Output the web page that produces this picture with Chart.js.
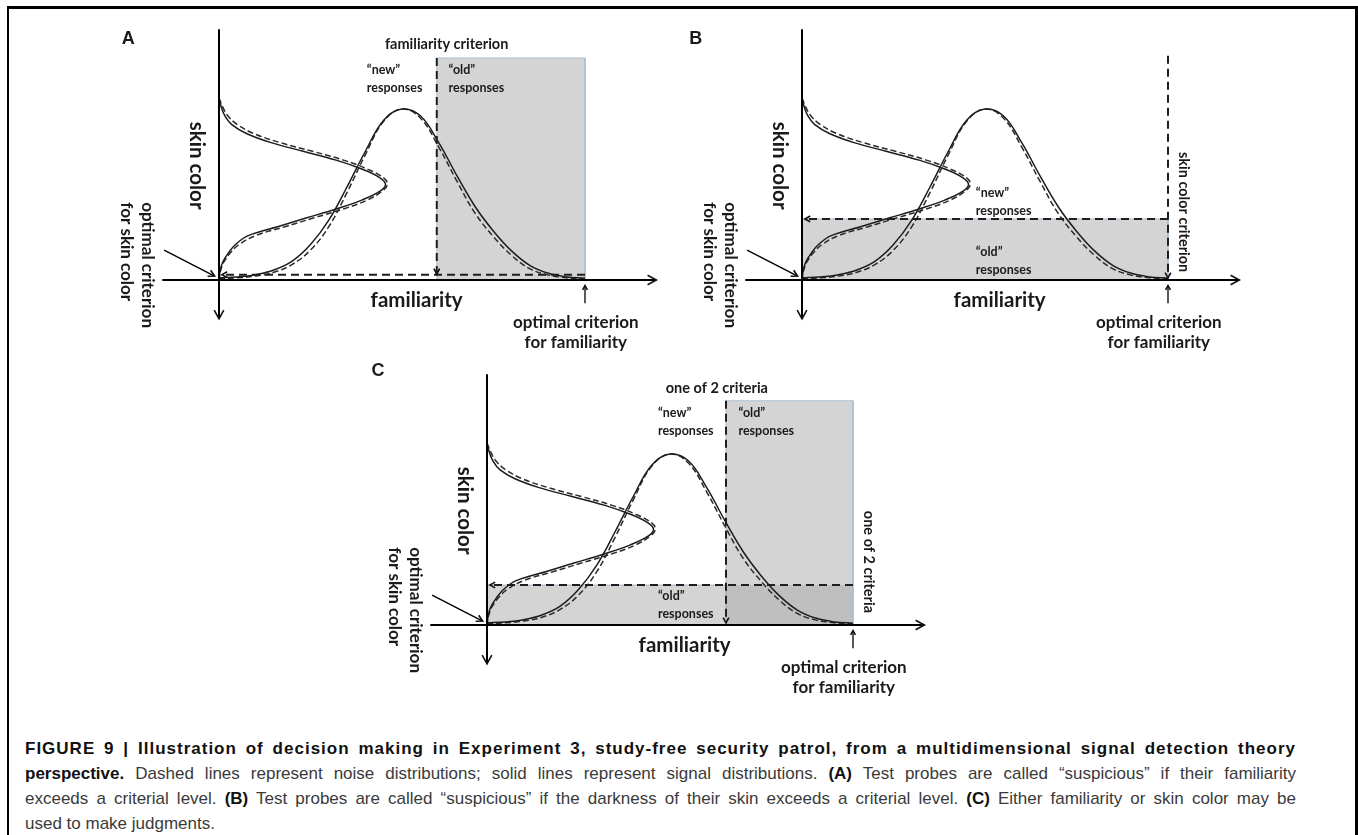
<!DOCTYPE html>
<html lang="en">
<head>
    <meta charset="UTF-8">
    <title>Figure 9 - Decision making in Experiment 3</title>
    <script src="https://cdn.jsdelivr.net/npm/chart.js"></script>
    <style>
        html, body {
            margin: 0;
            padding: 0;
            background: #fff;
        }

        body {
            width: 1358px;
            height: 835px;
            position: relative;
            overflow: hidden;
        }

        .frame {
            position: absolute;
            left: 7px;
            top: 6px;
            width: 1346px;
            height: 900px;
            border-top: 3px solid #000;
            border-left: 2px solid #000;
            border-right: 3px solid #000;
        }

        canvas.panel {
            position: absolute;
        }

        .caption {
            position: absolute;
            left: 25px;
            top: 736px;
            width: 1271px;
            font-family: "Liberation Sans", Arial, sans-serif;
            font-size: 17px;
            line-height: 25px;
            color: #3a3a3a;
            white-space: nowrap;
        }

        .caption .full {
            text-align: justify;
            text-align-last: justify;
        }

        .caption .title {
            letter-spacing: 1px;
        }

        .caption b {
            color: #111;
        }
    </style>
</head>
<body>
    <div class="frame"></div>
    <canvas id="panelA" class="panel"></canvas>
    <canvas id="panelB" class="panel"></canvas>
    <canvas id="panelC" class="panel"></canvas>

    <div class="caption">
        <div class="full title"><b>FIGURE 9 | Illustration of decision making in Experiment 3, study-free security patrol, from a multidimensional signal detection theory</b></div>
        <div class="full"><b>perspective.</b> Dashed lines represent noise distributions; solid lines represent signal distributions. <b>(A)</b> Test probes are called “suspicious” if their familiarity</div>
        <div class="full">exceeds a criterial level. <b>(B)</b> Test probes are called “suspicious” if the darkness of their skin exceeds a criterial level. <b>(C)</b> Either familiarity or skin color may be</div>
        <div>used to make judgments.</div>
    </div>

    <script>
        // familiarity distributions (height above the familiarity axis)
        const famLevels = [0, 5, 10, 15, 20, 25, 30, 35, 40, 45, 50, 55, 60, 65, 70, 75, 80, 85, 90, 95, 100];
        const famSignal = [1.0, 1.4, 2.4, 4.5, 8.5, 16, 27, 42, 58, 72, 77, 74, 62, 47, 33, 22, 13, 6.5, 3, 1.4, 0.8];
        const famNoise = [0.6, 1.0, 1.8, 3.5, 7, 13.5, 24, 39.5, 56.5, 71.5, 77, 73, 60, 44.5, 30, 19.5, 11, 5, 2.2, 1.0, 0.5];

        // skin color distributions (distance from the skin color axis)
        const skinLevels = [82, 78, 74, 70, 66, 62, 58, 54, 50, 46, 43, 40, 36, 32, 28, 24, 20, 16, 12, 8, 4, 0];
        const skinSignal = [0, 0.6, 1.6, 3.5, 7.5, 14, 23, 32, 39, 44, 45.5, 44, 39, 32, 24, 16, 8, 4.5, 2.5, 1.0, 0.3, 0];
        const skinNoise = [0, 1.0, 2.4, 5, 9.5, 16.5, 25.5, 34, 40.5, 45, 46, 44.5, 40.5, 34, 26, 18, 10, 5.5, 3, 1.3, 0.4, 0];

        // criteria
        const optimalFam = 100;
        const criterionTop = 100;
        const famCriterionA = 59.5;
        const skinCriterionA = 2.4;
        const skinCriterionB = 27.5;
        const famCriterionC = 65.3;
        const skinCriterionC = 18;

        const KX = 3.66;   // px per familiarity unit
        const KY = 2.22;   // px per skin color unit
        const LABEL_FONT = 'Lato, "Open Sans", sans-serif';

        const pt = (x, y) => ({ x, y });

        function curve(xs, ys, dashed) {
            return {
                data: xs.map((v, i) => pt(v, ys[i])),
                borderColor: dashed ? '#2b2b2b' : '#1c1c1c',
                borderWidth: 1.5,
                borderDash: dashed ? [6, 3] : [],
                tension: 0.4,
                fill: false,
                pointRadius: 0,
                order: 5
            };
        }

        function shade(x0, x1, y1, alpha, edge) {
            return {
                data: [pt(x0, 0), pt(x0, y1), pt(x1, y1), pt(x1, 0)],
                fill: 'origin',
                backgroundColor: 'rgba(0,0,0,' + (alpha || 0.17) + ')',
                borderColor: edge === false ? 'rgba(0,0,0,0)' : '#a9bed3',
                borderWidth: 1,
                tension: 0,
                pointRadius: 0,
                order: 10
            };
        }

        function dashed(points) {
            return {
                data: points,
                borderColor: '#1e1e1e',
                borderWidth: 2,
                borderDash: [8, 5],
                tension: 0,
                fill: false,
                pointRadius: 0,
                order: 2
            };
        }

        function solid(points, width) {
            return {
                data: points,
                borderColor: '#000',
                borderWidth: width,
                tension: 0,
                fill: false,
                pointRadius: 0,
                order: 1
            };
        }

        function commonSets() {
            return [
                solid([pt(-15.5, 0), pt(119.5, 0)], 2),
                solid([pt(0, 113), pt(0, -17.5)], 2),
                solid([pt(optimalFam, -10.5), pt(optimalFam, -2.5)], 1.3),
                solid([pt(-15, 13.5), pt(-1.2, 1.8)], 1.4),
                curve(famLevels, famSignal, false),
                curve(famLevels, famNoise, true),
                curve(skinSignal, skinLevels, false),
                curve(skinNoise, skinLevels, true)
            ];
        }

        function commonArrows() {
            return [
                { from: [110, 0], to: [119.5, 0], size: 10 },
                { from: [0, -10], to: [0, -17.5], size: 10 },
                { from: [optimalFam, -9], to: [optimalFam, -2.5], size: 5 },
                { from: [-15, 13.5], to: [-1.2, 1.8], size: 7 }
            ];
        }

        function commonLabels(letter, letterX, letterY) {
            return [
                { t: letter, x: letterX, y: letterY, font: 'bold 18px "Liberation Sans", Arial', align: 'center' },
                { t: 'skin color', x: -6, y: 51.5, font: 'bold 20.5px ' + LABEL_FONT, align: 'center', rot: true },
                { t: 'optimal criterion', x: -19.5, y: 35, font: 'bold 17px ' + LABEL_FONT, align: 'left', rot: true },
                { t: 'for skin color', x: -25.4, y: 35, font: 'bold 17px ' + LABEL_FONT, align: 'left', rot: true },
                { t: 'familiarity', x: 54, y: -9, font: 'bold 20.5px ' + LABEL_FONT, align: 'center' },
                { t: 'optimal criterion', x: 97.5, y: -19, font: 'bold 17px ' + LABEL_FONT, align: 'center' },
                { t: 'for familiarity', x: 97.5, y: -28, font: 'bold 17px ' + LABEL_FONT, align: 'center' }
            ];
        }

        function responses(word, x, y) {
            return [
                { t: '\u201c' + word + '\u201d', x: x, y: y, font: 'bold 12.5px ' + LABEL_FONT, align: 'left' },
                { t: 'responses', x: x, y: y - 8, font: 'bold 12.5px ' + LABEL_FONT, align: 'left' }
            ];
        }

        function arrowHead(ctx, x0, y0, x1, y1, size) {
            const a = Math.atan2(y1 - y0, x1 - x0);
            ctx.beginPath();
            ctx.moveTo(x1 - size * Math.cos(a - 0.5), y1 - size * Math.sin(a - 0.5));
            ctx.lineTo(x1, y1);
            ctx.lineTo(x1 - size * Math.cos(a + 0.5), y1 - size * Math.sin(a + 0.5));
            ctx.stroke();
        }

        const annotate = {
            id: 'annotate',
            afterDatasetsDraw(chart, args, opts) {
                const { ctx } = chart;
                const sx = chart.scales.x, sy = chart.scales.y;
                const P = (u, v) => [sx.getPixelForValue(u), sy.getPixelForValue(v)];
                ctx.save();
                ctx.strokeStyle = '#111';
                ctx.lineWidth = 1.6;
                ctx.setLineDash([]);
                opts.arrows.forEach(a => {
                    const [x0, y0] = P(a.from[0], a.from[1]);
                    const [x1, y1] = P(a.to[0], a.to[1]);
                    arrowHead(ctx, x0, y0, x1, y1, a.size);
                });
                ctx.fillStyle = '#1a1a1a';
                ctx.textBaseline = 'middle';
                opts.labels.forEach(l => {
                    const [px, py] = P(l.x, l.y);
                    ctx.font = l.font;
                    ctx.textAlign = l.align;
                    if (l.rot) {
                        ctx.save();
                        ctx.translate(px, py);
                        ctx.rotate(Math.PI / 2);
                        ctx.fillText(l.t, 0, 0);
                        ctx.restore();
                    } else {
                        ctx.fillText(l.t, px, py);
                    }
                });
                ctx.restore();
            }
        };

        function makePanel(cfg) {
            const c = document.getElementById(cfg.id);
            c.width = cfg.w;
            c.height = cfg.h;
            c.style.left = cfg.left + 'px';
            c.style.top = cfg.top + 'px';
            new Chart(c, {
                type: 'line',
                data: { datasets: cfg.datasets },
                options: {
                    responsive: false,
                    animation: false,
                    devicePixelRatio: 1,
                    events: [],
                    layout: { padding: 0 },
                    scales: {
                        x: { type: 'linear', display: false, min: (cfg.left - cfg.ox) / KX, max: (cfg.left + cfg.w - cfg.ox) / KX },
                        y: { type: 'linear', display: false, min: (cfg.oy - cfg.top - cfg.h) / KY, max: (cfg.oy - cfg.top) / KY }
                    },
                    plugins: {
                        legend: { display: false },
                        tooltip: { enabled: false },
                        annotate: { arrows: cfg.arrows, labels: cfg.labels }
                    }
                },
                plugins: [annotate]
            });
        }

        const smallFont = 'bold 14.5px ' + LABEL_FONT;

        // Panel A: familiarity criterion
        makePanel({
            id: 'panelA', left: 95, top: 8, w: 605, h: 345, ox: 219, oy: 280,
            datasets: commonSets().concat([
                shade(famCriterionA, optimalFam, criterionTop),
                dashed([pt(famCriterionA, criterionTop), pt(famCriterionA, skinCriterionA)]),
                dashed([pt(optimalFam, skinCriterionA), pt(0.6, skinCriterionA)])
            ]),
            arrows: commonArrows().concat([
                { from: [famCriterionA, 12], to: [famCriterionA, skinCriterionA + 0.3], size: 6 },
                { from: [10, skinCriterionA], to: [0.8, skinCriterionA], size: 6 }
            ]),
            labels: commonLabels('A', -24.8, 108.6).concat(
                [{ t: 'familiarity criterion', x: 62.2, y: 106, font: smallFont, align: 'center' }],
                responses('new', 40.4, 94.6),
                responses('old', 62.7, 94.6)
            )
        });

        // Panel B: skin color criterion
        makePanel({
            id: 'panelB', left: 680, top: 8, w: 620, h: 345, ox: 802, oy: 280,
            datasets: commonSets().concat([
                shade(0, optimalFam, skinCriterionB),
                dashed([pt(optimalFam, criterionTop + 1), pt(optimalFam, 1)]),
                dashed([pt(optimalFam, skinCriterionB), pt(0.6, skinCriterionB)])
            ]),
            arrows: commonArrows().concat([
                { from: [optimalFam, 12], to: [optimalFam, 1], size: 6 },
                { from: [10, skinCriterionB], to: [0.8, skinCriterionB], size: 6 }
            ]),
            labels: commonLabels('B', -29, 108.6).concat(
                [{ t: 'skin color criterion', x: 104.4, y: 30.6, font: smallFont, align: 'center', rot: true }],
                responses('new', 47.5, 39.2),
                responses('old', 47.5, 12.5)
            )
        });

        // Panel C: either criterion (overlap region darker)
        makePanel({
            id: 'panelC', left: 355, top: 352, w: 620, h: 345, ox: 487, oy: 625,
            datasets: commonSets().concat([
                shade(famCriterionC, optimalFam, criterionTop + 1),
                shade(0, famCriterionC, skinCriterionC),
                shade(famCriterionC, optimalFam, skinCriterionC, 0.1, false),
                dashed([pt(famCriterionC, criterionTop + 1), pt(famCriterionC, 1)]),
                dashed([pt(optimalFam, skinCriterionC), pt(0.6, skinCriterionC)])
            ]),
            arrows: commonArrows().concat([
                { from: [famCriterionC, 12], to: [famCriterionC, 1], size: 6 },
                { from: [10, skinCriterionC], to: [0.8, skinCriterionC], size: 6 }
            ]),
            labels: commonLabels('C', -29.8, 114.4).concat(
                [
                    { t: 'one of 2 criteria', x: 62.8, y: 106.8, font: smallFont, align: 'center' },
                    { t: 'one of 2 criteria', x: 104.4, y: 28.4, font: smallFont, align: 'center', rot: true }
                ],
                responses('new', 46.7, 95.5),
                responses('old', 68.7, 95.5),
                responses('old', 46.7, 13)
            )
        });
    </script>
</body>
</html>
